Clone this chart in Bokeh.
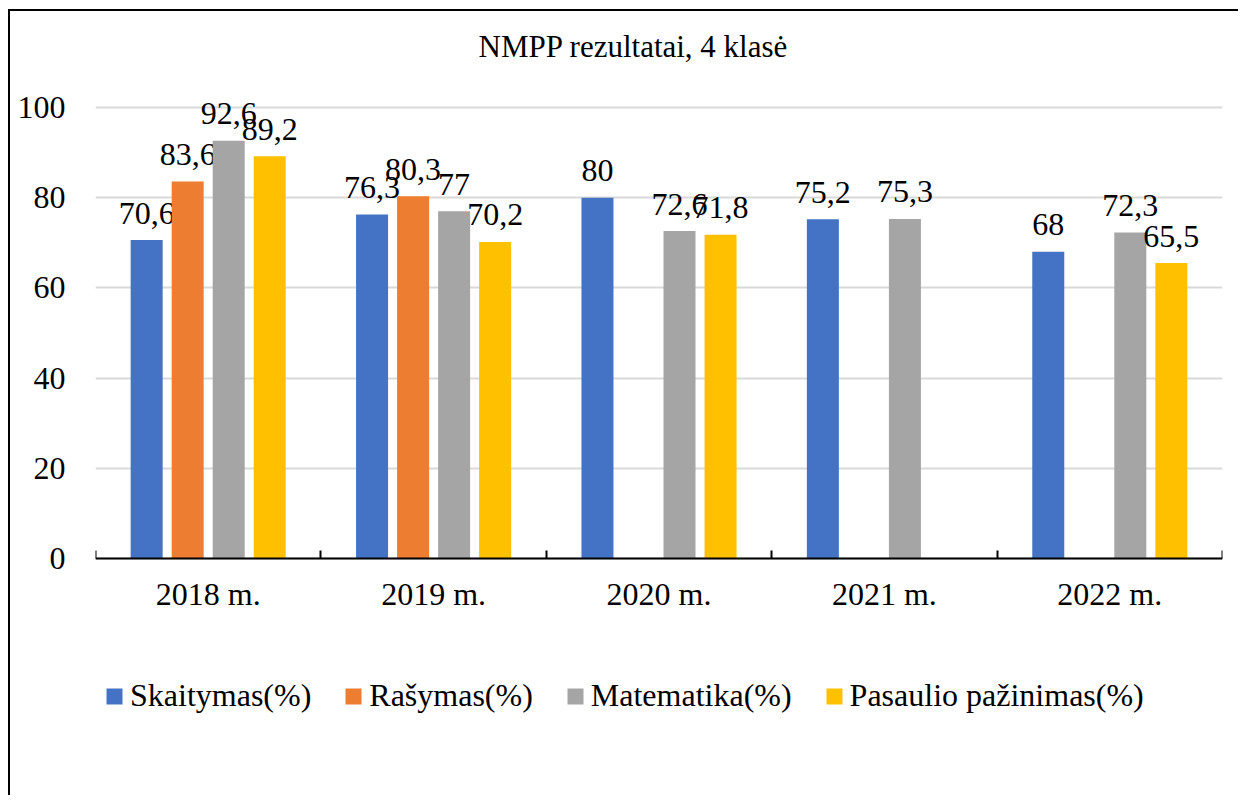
from bokeh.plotting import figure
from bokeh.models import Range1d, FixedTicker, Legend, LegendItem, ColumnDataSource, Label
from bokeh.core.properties import value
from bokeh.embed import file_html
from bokeh.resources import INLINE

# ---- data ----
years = ["2018 m.", "2019 m.", "2020 m.", "2021 m.", "2022 m."]
series_names = ["Skaitymas(%)", "Rašymas(%)", "Matematika(%)", "Pasaulio pažinimas(%)"]
skaitymas = [70.6, 76.3, 80, 75.2, 68]
rasymas = [83.6, 80.3, None, None, None]
matematika = [92.6, 77, 72.6, 75.3, 72.3]
pasaulio = [89.2, 70.2, 71.8, None, 65.5]
y_ticks = [0, 20, 40, 60, 80, 100]
title_text = "NMPP rezultatai, 4 klasė"

series_values = [skaitymas, rasymas, matematika, pasaulio]
colors = ["#4472C4", "#ED7D31", "#A5A5A5", "#FFC000"]

FONT = "Liberation Serif"
FS = "32px"

# canvas geometry (canvas origin is at page (10, 11))
W, H = 1230, 786
plot_left, plot_right = 85, 1212          # frame x extent on canvas
y0_px, y100_px = 547, 96                  # canvas rows of value 0 and 100
ppu = (y0_px - y100_px) / 100.0
y_lo = -(H - y0_px) / ppu
y_hi = 100 + y100_px / ppu

p = figure(width=W, height=H, x_range=Range1d(0, len(years)), y_range=Range1d(y_lo, y_hi),
           output_backend="svg", toolbar_location=None, title=None,
           min_border_left=plot_left, min_border_right=W - plot_right,
           min_border_top=0, min_border_bottom=0)
p.styles = {"border-left": "2px solid #000000", "border-top": "2px solid #000000",
            "margin-left": "8px", "margin-top": "9px"}
p.outline_line_color = None
p.background_fill_color = "white"
p.border_fill_color = "white"

# axes
p.xaxis.fixed_location = 0
p.xaxis.ticker = FixedTicker(ticks=[i + 0.5 for i in range(len(years))],
                             minor_ticks=list(range(len(years) + 1)))
p.xaxis.major_label_overrides = {i + 0.5: y for i, y in enumerate(years)}
p.xaxis.major_tick_in = 0
p.xaxis.major_tick_out = 0
p.xaxis.minor_tick_in = 8
p.xaxis.minor_tick_out = 0
p.xaxis.minor_tick_line_color = "black"
p.xaxis.minor_tick_line_width = 2
p.xaxis.axis_line_color = "black"
p.xaxis.axis_line_width = 2
p.xaxis.major_label_text_font = FONT
p.xaxis.major_label_text_font_size = FS
p.xaxis.major_label_text_color = "black"
p.xaxis.major_label_standoff = 17

p.yaxis.ticker = FixedTicker(ticks=y_ticks)
p.yaxis.axis_line_color = None
p.yaxis.major_tick_line_color = None
p.yaxis.minor_tick_line_color = None
p.yaxis.major_label_text_font = FONT
p.yaxis.major_label_text_font_size = FS
p.yaxis.major_label_text_color = "black"
p.yaxis.major_label_standoff = 24

p.xgrid.grid_line_color = None
p.ygrid.grid_line_color = "#D9D9D9"
p.ygrid.grid_line_width = 2
p.ygrid.ticker = FixedTicker(ticks=y_ticks)

# bars
n = len(series_values)
step = 0.182
bar_w = 0.142
renderers = []
for k, (vals, col) in enumerate(zip(series_values, colors)):
    off = (k - (n - 1) / 2) * step
    xs = [i + 0.5 + off for i, v in enumerate(vals) if v is not None]
    tops = [v for v in vals if v is not None]
    labels = [(str(int(v)) if float(v).is_integer() else str(v).replace(".", ",")) for v in tops]
    src = ColumnDataSource(dict(x=xs, top=tops, lab=labels))
    r = p.vbar(x="x", top="top", bottom=0, width=bar_w, fill_color=col, line_color=None, source=src)
    renderers.append(r)
    p.text(x="x", y="top", text="lab", source=src, text_align="center",
           text_baseline="alphabetic", y_offset=-27,
           text_font=value(FONT), text_font_size=FS, text_color="black")

# title (inside the frame, which spans the whole canvas height)
p.add_layout(Label(x=633 - 95, y=H - 35, x_units="screen", y_units="screen",
                   text=title_text, text_align="center", text_baseline="alphabetic",
                   text_font=FONT, text_font_size="31px", text_color="black"))

# legend row
legend = Legend(items=[LegendItem(label=nm, renderers=[r]) for nm, r in zip(series_names, renderers)],
                location=(9, H - 703), orientation="horizontal", padding=0, margin=0, spacing=32,
                glyph_width=20, glyph_height=20, label_standoff=6,
                label_text_font=FONT, label_text_font_size=FS, label_text_color="black",
                border_line_color=None, background_fill_alpha=0)
p.add_layout(legend, "center")

open("out.html", "w").write(file_html(p, INLINE))
